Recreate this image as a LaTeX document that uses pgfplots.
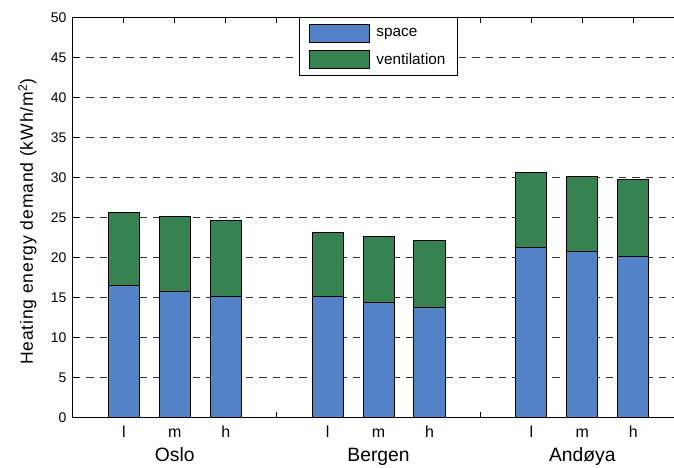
\documentclass[border=0pt]{standalone}
\usepackage{fontspec}
\setmainfont{Liberation Sans}
\usepackage{pgfplots}
\pgfplotsset{compat=1.18}
\usetikzlibrary{calc}

\definecolor{spaceblue}{RGB}{83,130,198}
\definecolor{ventgreen}{RGB}{54,130,80}

% heating demand per city and insulation level (l, m, h); 4 and 8 are spacers
\pgfplotstableread{
pos space vent
1  16.5  9.2
2  15.75 9.45
3  15.2  9.4
4  0     0
5  15.2  8.0
6  14.45 8.25
7  13.75 8.35
8  0     0
9  21.3  9.4
10 20.8  9.4
11 20.2  9.6
}\demand

\begin{document}
\begin{tikzpicture}
\begin{axis}[
  name=ax,
  scale only axis,
  width=451.35pt, height=300.75pt,
  clip=false,
  ybar stacked,
  bar width=0.61,
  xmin=0, xmax=11.8,
  ymin=0, ymax=50,
  axis x line*=box,
  axis y line*=left,
  axis line style={line width=0.75pt, black},
  tick align=inside,
  major tick length=4.5pt,
  tick style={line width=0.75pt, black},
  xtick={1,...,11},
  xticklabels={l,m,h,,l,m,h,,l,m,h},
  ytick={0,5,...,50},
  /pgf/number format/assume math mode=true,
  yticklabel style={font=\fontsize{10.5}{12}\selectfont, anchor=east, inner sep=0pt, xshift=-4.7pt},
  xticklabel style={font=\fontsize{12}{14}\selectfont, anchor=base, inner sep=0pt, yshift=-14.85pt},
  ymajorgrids,
  major grid style={black!80, line width=0.75pt, dash pattern=on 5.5pt off 4.5pt},
  ylabel={Heating energy demand (kWh/m\textsuperscript{2})},
  ylabel style={font=\fontsize{13.2}{15}\selectfont\addfontfeature{LetterSpace=4.7},
    at={(axis description cs:-0.0603,0.49)}, anchor=south, inner sep=0pt},
  legend style={at={(axis description cs:0.3767,1)}, anchor=north west,
    draw=black, line width=0.75pt, fill=white,
    font=\fontsize{11.5}{13}\selectfont,
    inner xsep=6.8pt, inner ysep=4.5pt, row sep=5.5pt, column sep=3pt,
    nodes={inner sep=2pt}},
  legend cell align=left,
  every axis plot/.append style={draw=black, line width=0.75pt},
]
\addplot[fill=spaceblue,
  legend image code/.code={\draw[fill=spaceblue, draw=black, line width=0.75pt] (0pt,-6.75pt) rectangle (45pt,6.75pt);}]
  table[x=pos, y=space] {\demand};
\addlegendentry{space}
\addplot[fill=ventgreen,
  legend image code/.code={\draw[fill=ventgreen, draw=black, line width=0.75pt] (0pt,-6.75pt) rectangle (45pt,6.75pt);}]
  table[x=pos, y=vent] {\demand};
\addlegendentry{ventilation}

% city names under each group of three bars
\node[anchor=base, font=\fontsize{14.5}{16}\selectfont] at ($(axis cs:2,0)+(0,-32.85pt)$) {Oslo};
\node[anchor=base, font=\fontsize{14.5}{16}\selectfont] at ($(axis cs:6,0)+(0,-32.85pt)$) {Bergen};
\node[anchor=base, font=\fontsize{14.5}{16}\selectfont] at ($(axis cs:10,0)+(0,-32.85pt)$) {Andøya};
\end{axis}
\pgfresetboundingbox
\path[use as bounding box] ($(ax.south west)+(-54.75pt,-37.125pt)$) rectangle ($(ax.north east)+(0,13.125pt)$);
\end{tikzpicture}
\end{document}
